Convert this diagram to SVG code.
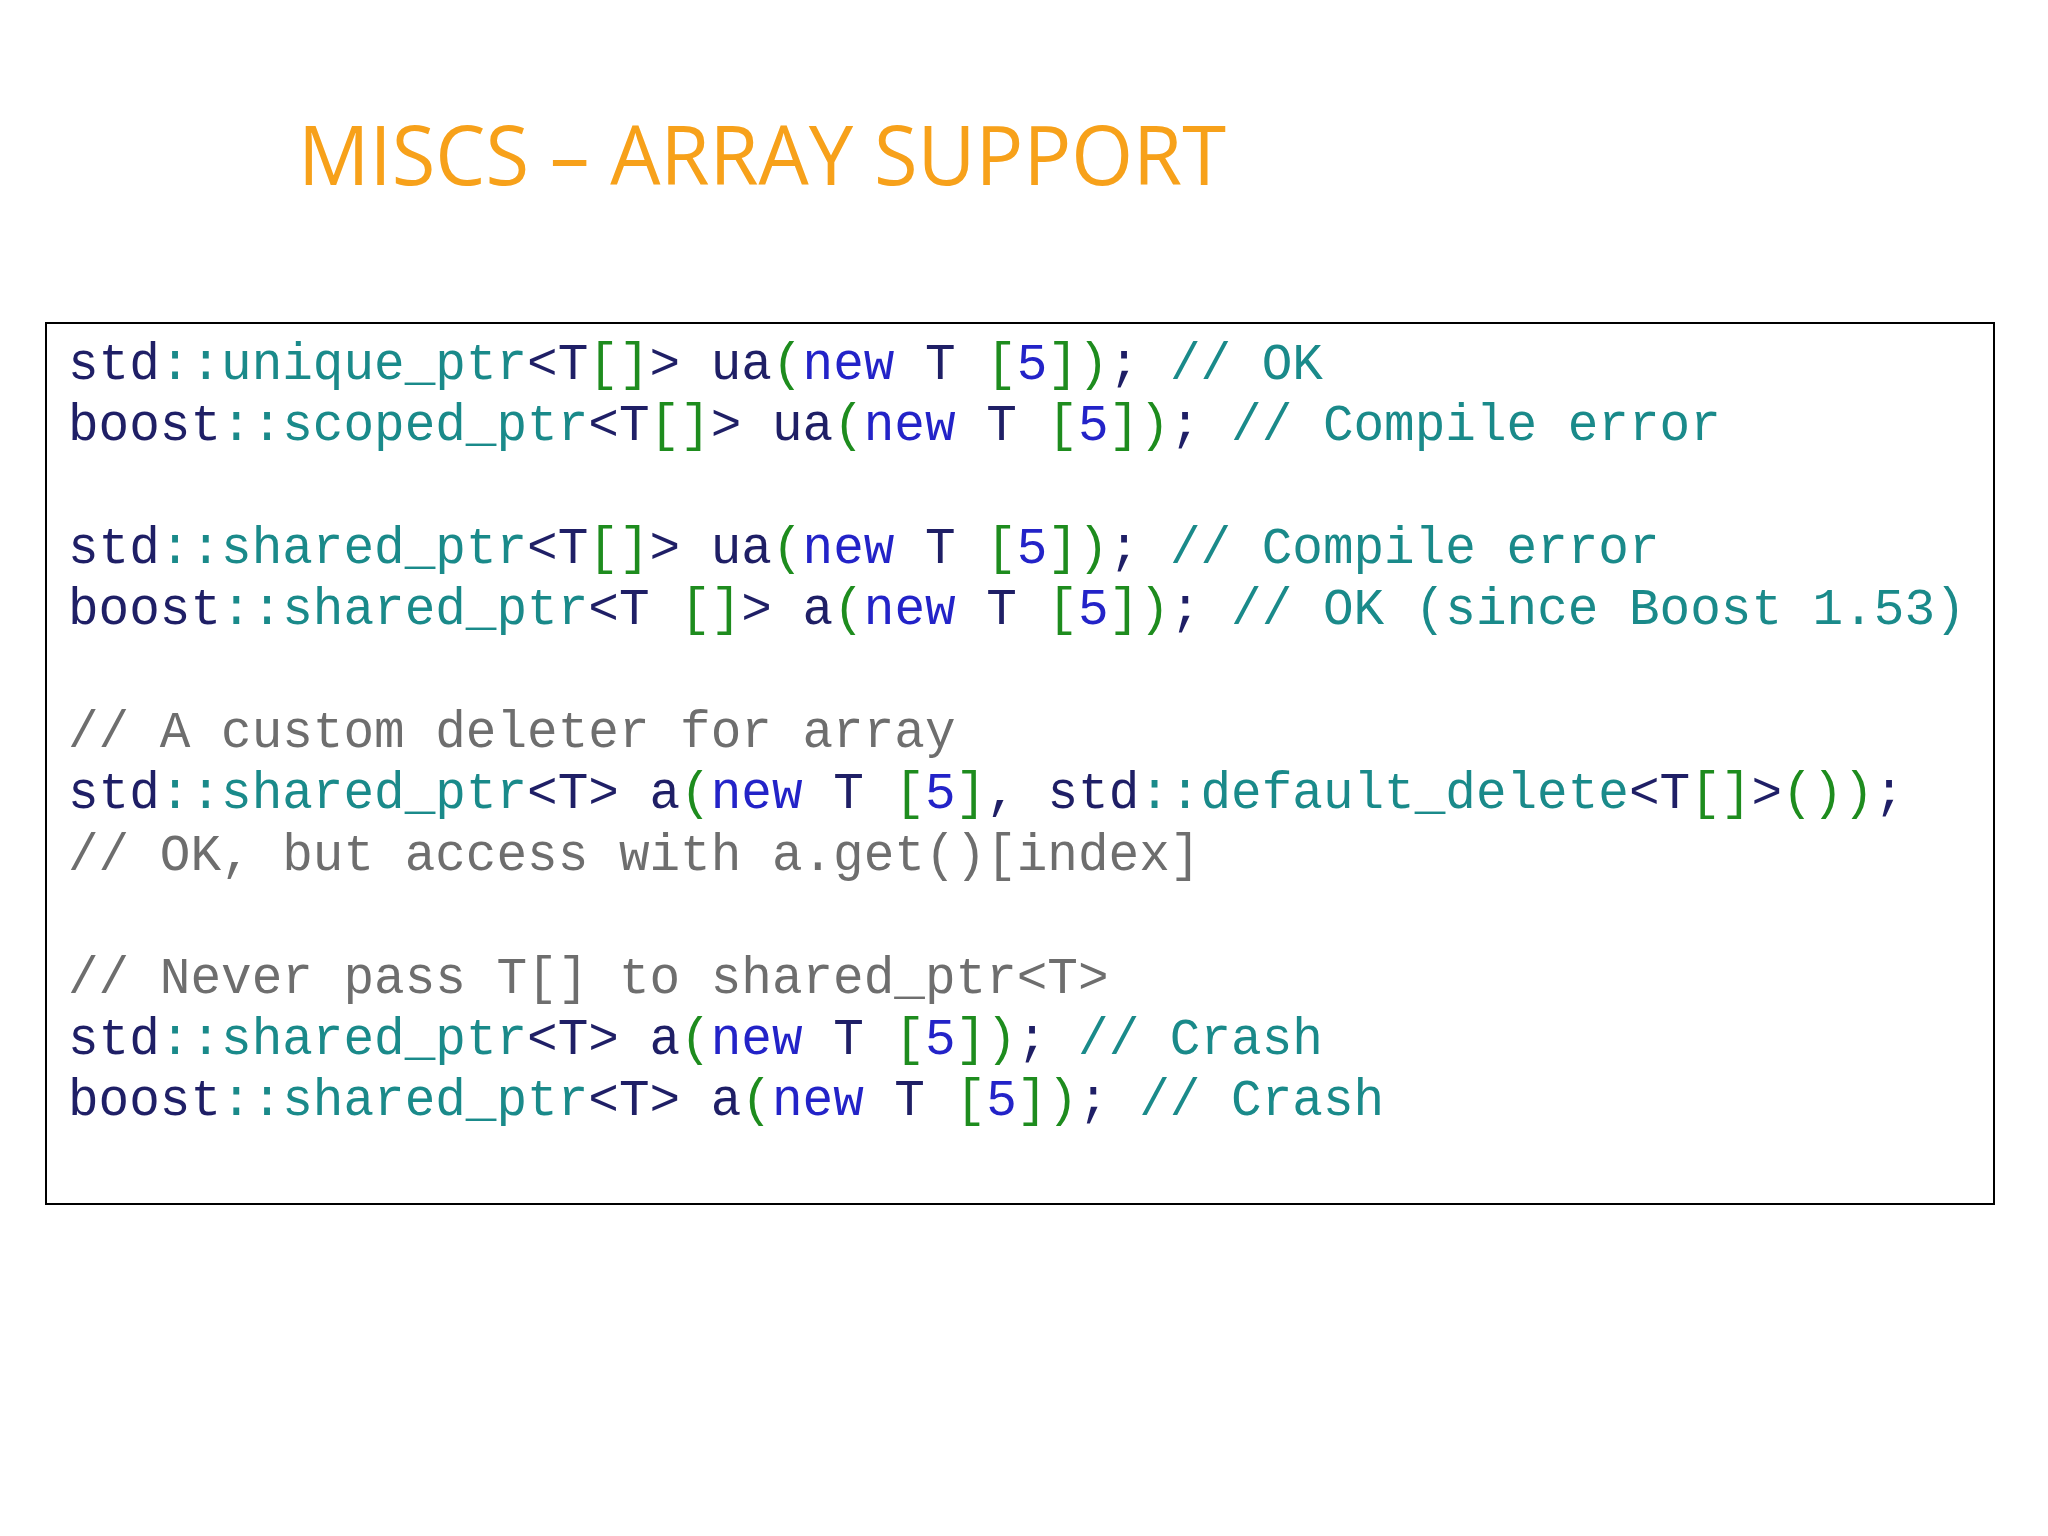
<svg xmlns="http://www.w3.org/2000/svg" width="2048" height="1536" viewBox="0 0 2048 1536">
<style>
.c{font-family:"Liberation Mono",monospace;font-size:51px;fill:#1f1f66;white-space:pre}
.t{fill:#1a8a8a}.b{fill:#2323c8}.g{fill:#1e8c1e}.m{fill:#6e6e6e}
</style>
<rect width="2048" height="1536" fill="#fff"/>
<g id="title"><text x="298" y="185" font-family="'Open Sans','Liberation Sans',sans-serif" font-size="82" fill="#f7a11a" textLength="928" lengthAdjust="spacingAndGlyphs">MISCS – ARRAY SUPPORT</text></g>
<g id="codebox">
<rect x="46" y="323" width="1948" height="881" fill="#fff" stroke="#000" stroke-width="2"/>
<text class="c" x="68" y="379" xml:space="preserve">std<tspan class="t">::unique_ptr</tspan>&lt;T<tspan class="g">[]</tspan>&gt; ua<tspan class="g">(</tspan><tspan class="b">new</tspan> T <tspan class="g">[</tspan><tspan class="b">5</tspan><tspan class="g">])</tspan>; <tspan class="t">// OK</tspan></text>
<text class="c" x="68" y="440" xml:space="preserve">boost<tspan class="t">::scoped_ptr</tspan>&lt;T<tspan class="g">[]</tspan>&gt; ua<tspan class="g">(</tspan><tspan class="b">new</tspan> T <tspan class="g">[</tspan><tspan class="b">5</tspan><tspan class="g">])</tspan>; <tspan class="t">// Compile error</tspan></text>
<text class="c" x="68" y="563" xml:space="preserve">std<tspan class="t">::shared_ptr</tspan>&lt;T<tspan class="g">[]</tspan>&gt; ua<tspan class="g">(</tspan><tspan class="b">new</tspan> T <tspan class="g">[</tspan><tspan class="b">5</tspan><tspan class="g">])</tspan>; <tspan class="t">// Compile error</tspan></text>
<text class="c" x="68" y="624" xml:space="preserve">boost<tspan class="t">::shared_ptr</tspan>&lt;T <tspan class="g">[]</tspan>&gt; a<tspan class="g">(</tspan><tspan class="b">new</tspan> T <tspan class="g">[</tspan><tspan class="b">5</tspan><tspan class="g">])</tspan>; <tspan class="t">// OK (since Boost 1.53)</tspan></text>
<text class="c m" x="68" y="747" xml:space="preserve">// A custom deleter for array</text>
<text class="c" x="68" y="808" xml:space="preserve">std<tspan class="t">::shared_ptr</tspan>&lt;T&gt; a<tspan class="g">(</tspan><tspan class="b">new</tspan> T <tspan class="g">[</tspan><tspan class="b">5</tspan><tspan class="g">]</tspan>, std<tspan class="t">::default_delete</tspan>&lt;T<tspan class="g">[]</tspan>&gt;<tspan class="g">())</tspan>;</text>
<text class="c m" x="68" y="870" xml:space="preserve">// OK, but access with a.get()[index]</text>
<text class="c m" x="68" y="993" xml:space="preserve">// Never pass T[] to shared_ptr&lt;T&gt;</text>
<text class="c" x="68" y="1054" xml:space="preserve">std<tspan class="t">::shared_ptr</tspan>&lt;T&gt; a<tspan class="g">(</tspan><tspan class="b">new</tspan> T <tspan class="g">[</tspan><tspan class="b">5</tspan><tspan class="g">])</tspan>; <tspan class="t">// Crash</tspan></text>
<text class="c" x="68" y="1115" xml:space="preserve">boost<tspan class="t">::shared_ptr</tspan>&lt;T&gt; a<tspan class="g">(</tspan><tspan class="b">new</tspan> T <tspan class="g">[</tspan><tspan class="b">5</tspan><tspan class="g">])</tspan>; <tspan class="t">// Crash</tspan></text>
</g>
</svg>
